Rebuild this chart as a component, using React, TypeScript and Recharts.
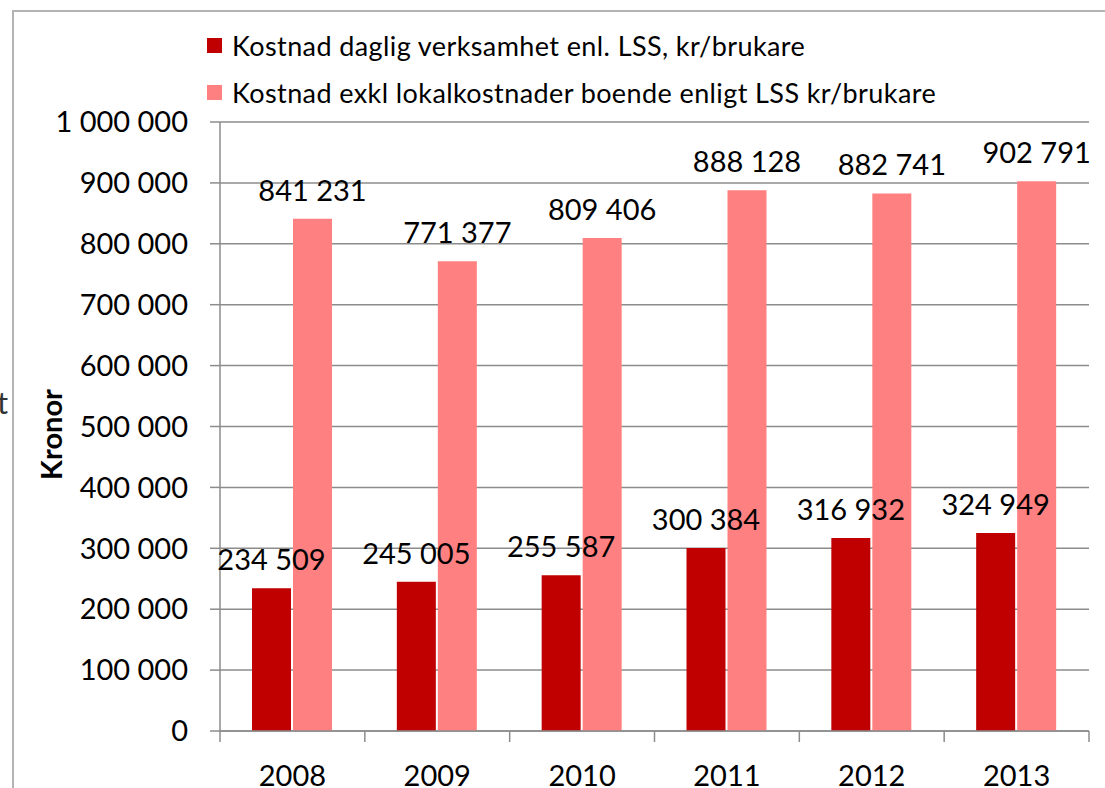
import { BarChart, Bar, XAxis, YAxis, CartesianGrid, Legend, LabelList } from 'recharts';

// år på x-axeln
const years = ['2008', '2009', '2010', '2011', '2012', '2013'];

// kr/brukare, daglig verksamhet
const dagligVerksamhet = [234509, 245005, 255587, 300384, 316932, 324949];

// kr/brukare, boende exkl lokalkostnader
const boende = [841231, 771377, 809406, 888128, 882741, 902791];

const yTicks = [0, 100000, 200000, 300000, 400000, 500000, 600000, 700000, 800000, 900000, 1000000];

const seriesNames = [
  'Kostnad daglig verksamhet enl. LSS, kr/brukare',
  'Kostnad exkl lokalkostnader boende enligt LSS kr/brukare',
];

const DARK = '#C00000';
const LIGHT = '#FF8080';
const AXIS = '#8c8c8c';
const FONT = 'Lato, "Open Sans", sans-serif';
const X_MARGIN = 34;

const data = years.map((year, i) => ({
  year,
  daglig: dagligVerksamhet[i],
  boende: boende[i],
}));

// 1000000 -> "1 000 000"
const fmt = (v: number) => String(v).replace(/\B(?=(\d{3})+(?!\d))/g, ' ');

// värdet ovanför stapeln, utan radbrytning
const renderValue = (p: any) => (
  <text
    x={p.x + p.width / 2}
    y={p.y - 18}
    textAnchor="middle"
    fontFamily={FONT}
    fontSize={29}
    fill="#000"
  >
    {fmt(Number(p.value))}
  </text>
);

// årtal + små streck mellan kategorierna (Excel-stil)
function YearTick(p: any) {
  const { x, y, payload, index, visibleTicksCount, width } = p;
  const half = payload.offset || width / visibleTicksCount / 2;
  const axisY = y - X_MARGIN;
  const mark = (mx: number) => (
    <line x1={mx} x2={mx} y1={axisY} y2={axisY + 11} stroke={AXIS} strokeWidth={1.5} />
  );
  return (
    <g>
      {mark(x - half)}
      {index === visibleTicksCount - 1 && mark(x + half)}
      <text x={x} y={y} dy="0.71em" textAnchor="middle" fontFamily={FONT} fontSize={29} fill="#000">
        {payload.value}
      </text>
    </g>
  );
}

function LegendBox() {
  const colors = [DARK, LIGHT];
  return (
    <div style={{ fontFamily: FONT, fontSize: 27, letterSpacing: 0.4, color: '#000' }}>
      {seriesNames.map((name, i) => (
        <div key={name} style={{ display: 'flex', alignItems: 'center', height: 47 }}>
          <span style={{ display: 'inline-block', width: 15, height: 15, background: colors[i], marginRight: 10 }} />
          <span>{name}</span>
        </div>
      ))}
    </div>
  );
}

export default function App() {
  return (
    <div style={{ position: 'absolute', left: 0, top: 0, width: 1105, height: 788, overflow: 'hidden', background: '#fff' }}>
      {/* ram runt diagrammet, går utanför bilden till höger och nedåt */}
      <div style={{ position: 'absolute', left: 12, top: 10, width: 1200, height: 900, border: '2px solid #b4b4b4' }} />
      {/* avklippt text från sidan bredvid */}
      <div style={{ position: 'absolute', left: -3, top: 383, fontFamily: FONT, fontSize: 31, color: '#333' }}>t</div>
      <div style={{ position: 'absolute', left: 0, top: 0 }}>
        <BarChart
          width={1105}
          height={788}
          data={data}
          margin={{ top: 122, right: 16, bottom: 0, left: 0 }}
          barCategoryGap={32}
          barGap={2}
        >
          <CartesianGrid vertical={false} stroke={AXIS} strokeWidth={1.5} />
          <XAxis
            dataKey="year"
            height={57}
            axisLine={{ stroke: AXIS, strokeWidth: 1.5 }}
            tickLine={false}
            tickSize={0}
            tickMargin={X_MARGIN}
            tick={<YearTick />}
          />
          <YAxis
            width={220}
            domain={[0, 1000000]}
            ticks={yTicks}
            tickFormatter={fmt}
            tickSize={10}
            tickMargin={22}
            axisLine={{ stroke: AXIS, strokeWidth: 1.5 }}
            tickLine={{ stroke: AXIS, strokeWidth: 1.5 }}
            tick={{ fontSize: 29, fill: '#000', fontFamily: FONT }}
            label={{
              content: (p: any) => {
                const vb = p.viewBox;
                const cx = vb.x + 50;
                const cy = vb.y + vb.height / 2 + 8;
                return (
                  <text
                    x={cx}
                    y={cy}
                    transform={`rotate(-90 ${cx} ${cy})`}
                    textAnchor="middle"
                    dominantBaseline="central"
                    fontFamily={FONT}
                    fontWeight="bold"
                    fontSize={29}
                    fill="#000"
                  >
                    Kronor
                  </text>
                );
              },
            }}
          />
          <Legend
            layout="horizontal"
            verticalAlign="middle"
            align="center"
            wrapperStyle={{ top: 22, left: 207, width: 880 }}
            content={() => <LegendBox />}
          />
          <Bar dataKey="daglig" name={seriesNames[0]} fill={DARK} isAnimationActive={false}>
            <LabelList dataKey="daglig" content={renderValue} />
          </Bar>
          <Bar dataKey="boende" name={seriesNames[1]} fill={LIGHT} isAnimationActive={false}>
            <LabelList dataKey="boende" content={renderValue} />
          </Bar>
        </BarChart>
      </div>
    </div>
  );
}
